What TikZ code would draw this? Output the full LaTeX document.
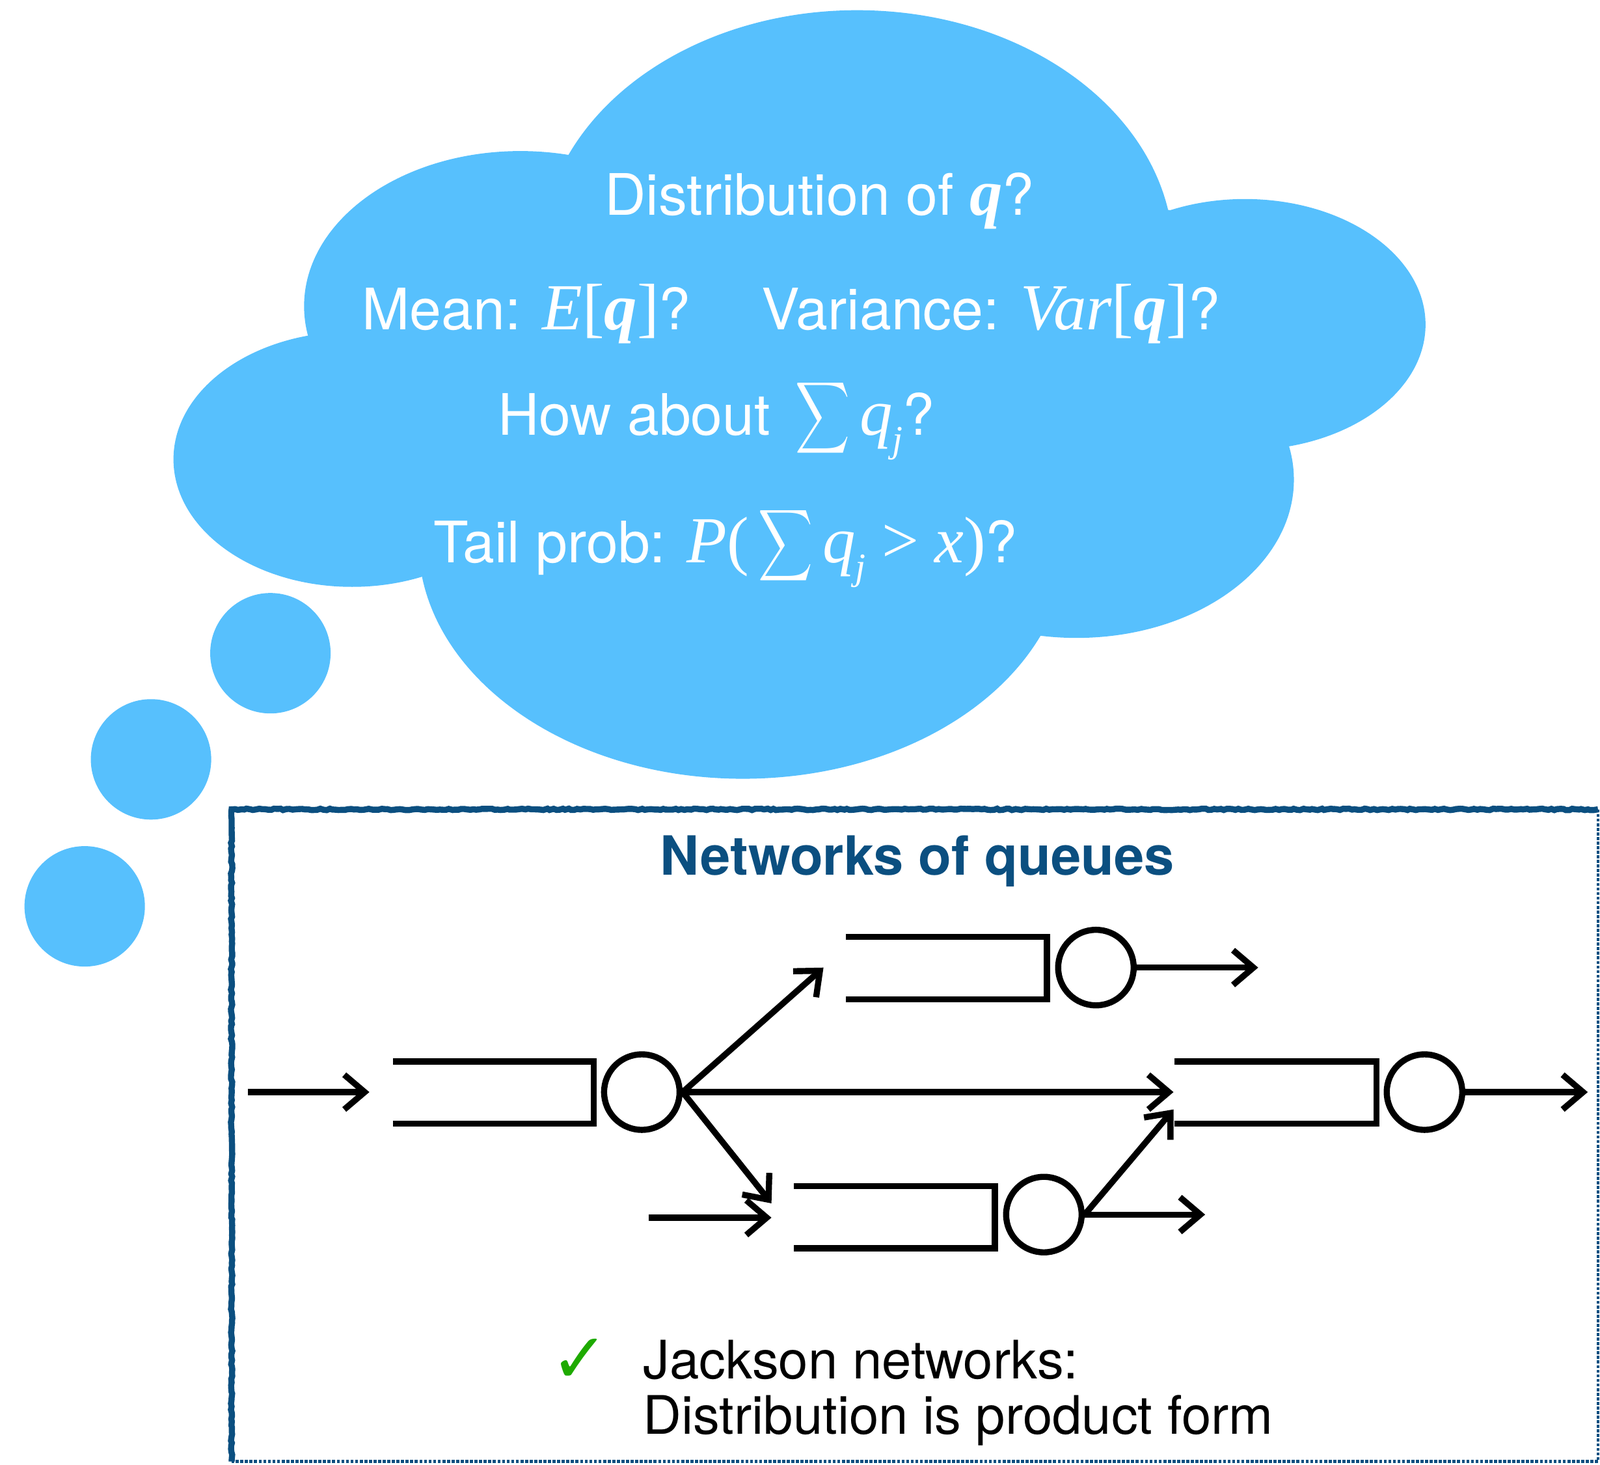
\documentclass[tikz,border=0pt]{standalone}
\usepackage{fontspec}
\setmainfont{TeX Gyre Heros}
\newfontfamily\tms[Scale=1.15]{Liberation Serif}
\newfontfamily\djv{DejaVu Sans}
\usetikzlibrary{arrows.meta,decorations.pathmorphing}
\definecolor{cloudblue}{RGB}{87,192,253}
\definecolor{boxblue}{RGB}{11,79,128}
\definecolor{checkgreen}{RGB}{30,170,0}
\newcommand{\mi}[1]{{\tms\itshape #1}}
\newcommand{\mbq}[1]{{\tms\bfseries\itshape #1}}
\newcommand{\mr}[1]{{\tms #1}}
\newcommand{\sbj}{\raisebox{-0.3em}{\fontsize{32}{32}\selectfont\tms\itshape j}}
\newcommand{\bsum}{\raisebox{4pt}{\fontsize{10}{12}\selectfont\scalebox{3.7}[4.9]{$\displaystyle\sum$}}}
\begin{document}
\begin{tikzpicture}[x=1pt,y=-1pt,
  cloudtxt/.style={text=white,font=\fontsize{56}{66}\selectfont,inner sep=0pt,anchor=base},
  qline/.style={line width=6pt,line join=miter,black},
  srv/.style={circle,draw=black,line width=6pt,minimum size=74pt,inner sep=0pt},
  flow/.style={line width=6pt,-{Straight Barb[length=20pt,width=34pt]}},
  bodytxt/.style={font=\fontsize{52}{62}\selectfont,inner sep=0pt,anchor=base west}]
\useasboundingbox (0,0) rectangle (1568,1435);
% cloud
\begin{scope}[cloudblue]
\fill (840,250) ellipse [x radius=310pt, y radius=240pt];
\fill (510,300) ellipse [x radius=212pt, y radius=152pt];
\fill (345,450) ellipse [x radius=175pt, y radius=125pt];
\fill (728,530) ellipse [x radius=318pt, y radius=233pt];
\fill (1055,470) ellipse [x radius=213pt, y radius=155pt];
\fill (1220,318) ellipse [x radius=177pt, y radius=123pt];
\fill (545,152) -- (1148,206) -- (1262,438) -- (1020,622) -- (418,563) -- (303,330) -- cycle;
\fill (265,640) circle [radius=59pt];
\fill (148,744) circle [radius=59pt];
\fill (83,888) circle [radius=59pt];
\end{scope}
% cloud texts
\node[cloudtxt] (t1) at (803,211) {Distribution of \mbq{q}?};
\node[cloudtxt] (t2) at (516,323) {Mean: \mi{E}\mr{[}\mbq{q}\mr{]}?};
\node[cloudtxt] (t3) at (971,323) {Variance: \mi{Var}\mr{[}\mbq{q}\mr{]}?};
\node[cloudtxt] (t4) at (702,426) {How about \,\bsum\,\mi{q}\sbj?};
\node[cloudtxt] (t5) at (711,551) {Tail prob: \mi{P}\mr{(}\,\bsum\,\mi{q}\sbj\;\mr{>}\;\mi{x}\mr{)}?};
% box
\draw[boxblue,line width=6pt,decorate,decoration={random steps,segment length=3pt,amplitude=0.7pt}]
  (227,1432) -- (227,793) -- (1566,793);
\draw[boxblue,line width=3pt,dash pattern=on 3pt off 1.5pt]
  (1566,793) -- (1566,1432) -- (227,1432);
\node[anchor=base,text=boxblue,inner sep=0pt,font=\fontsize{53}{63}\selectfont\bfseries] (title) at (899,857) {Networks of queues};
% queues
\draw[qline] (385,1040) -- (582,1040) -- (582,1101) -- (385,1101);
\draw[qline] (829,918) -- (1026,918) -- (1026,979) -- (829,979);
\draw[qline] (1151,1040) -- (1349,1040) -- (1349,1101) -- (1151,1101);
\draw[qline] (778,1162) -- (975,1162) -- (975,1223) -- (778,1223);
\node[srv] (s1) at (629,1070) {};
\node[srv] (s2) at (1074,948) {};
\node[srv] (s3) at (1396,1070) {};
\node[srv] (s4) at (1023,1190) {};
% free ends
\coordinate (in1) at (243,1070);
\coordinate (q1in) at (362,1070);
\coordinate (q2in) at (807,948);
\coordinate (q3in) at (1150,1070);
\coordinate (q3inb) at (1150,1087);
\coordinate (q4ina) at (756,1179);
\coordinate (in4) at (636,1193);
\coordinate (q4inb) at (756,1193);
\coordinate (out2) at (1233,948);
\coordinate (out4) at (1181,1190);
\coordinate (out3) at (1556,1070);
% flows
\draw[flow] (in1) -- (q1in);
\draw[flow] (s1.east) -- (q2in);
\draw[flow] (s1.east) -- (q3in);
\draw[flow] (s1.east) -- (q4ina);
\draw[flow] (in4) -- (q4inb);
\draw[flow] (s2.east) -- (out2);
\draw[flow] (s4.east) -- (q3inb);
\draw[flow] (s4.east) -- (out4);
\draw[flow] (s3.east) -- (out3);
% bottom text
\node[text=checkgreen,inner sep=0pt,font=\djv\fontsize{68}{68}\selectfont] (ck) at (568,1333) {✓};
\node[bodytxt] (j1) at (630,1351) {Jackson networks:};
\node[bodytxt] (j2) at (630,1405) {Distribution is product form};
\end{tikzpicture}
\end{document}
